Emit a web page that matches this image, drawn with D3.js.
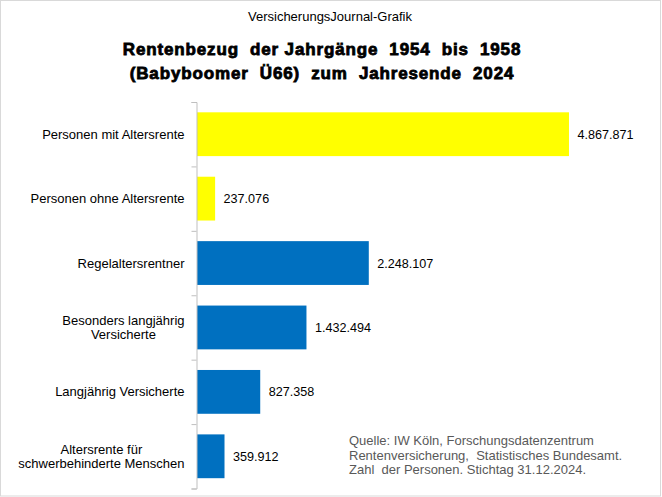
<!DOCTYPE html>
<html>
<head>
<meta charset="utf-8">
<script src="https://cdn.jsdelivr.net/npm/d3@7"></script>
<style>
  body { margin: 0; background: #fff; }
  svg text { font-family: "Liberation Sans", Arial, sans-serif; white-space: pre; }
</style>
</head>
<body>
<div class="visHolder"></div>
<script>
const categories = [
  ["Personen mit Altersrente"],
  ["Personen ohne Altersrente"],
  ["Regelaltersrentner"],
  ["Besonders langjährig", "Versicherte"],
  ["Langjährig Versicherte"],
  ["Altersrente für", "schwerbehinderte Menschen"],
];
const values = [4867871, 237076, 2248107, 1432494, 827358, 359912];
const barColors = ["#ffff00", "#ffff00", "#0070c0", "#0070c0", "#0070c0", "#0070c0"];
const sourceLines = [
  "Quelle: IW Köln, Forschungsdatenzentrum",
  "Rentenversicherung,  Statistisches Bundesamt.",
  "Zahl  der Personen. Stichtag 31.12.2024.",
];

const width = 662;
const height = 497;
const fmt = d3.formatLocale({ decimal: ",", thousands: ".", grouping: [3], currency: ["", "€"] }).format(",d");

const svg = d3
  .select(".visHolder")
  .append("svg")
  .attr("width", width)
  .attr("height", height);

// Rahmen
svg
  .append("rect")
  .attr("x", 0.5)
  .attr("y", 0.5)
  .attr("width", 660)
  .attr("height", 495.5)
  .attr("fill", "#fff")
  .attr("stroke", "#d9d9d9");

const xScale = d3.scaleLinear().domain([0, 6000000]).range([196.5, 655]);
const yScale = d3
  .scaleBand()
  .domain(d3.range(values.length))
  .range([102, 488.5])
  .paddingInner(0.32)
  .paddingOuter(0.16);

// Titel
svg
  .append("text")
  .attr("x", 330)
  .attr("y", 21)
  .attr("text-anchor", "middle")
  .attr("font-size", "13px")
  .attr("fill", "#000")
  .text("VersicherungsJournal-Grafik");

const title = svg
  .append("text")
  .attr("text-anchor", "middle")
  .attr("font-size", "17px")
  .attr("font-weight", "bold")
  .attr("letter-spacing", "0.85px")
  .attr("fill", "#000")
  .attr("stroke", "#000")
  .attr("stroke-width", 0.8);
title.append("tspan").attr("x", 322).attr("y", 55).text("Rentenbezug  der Jahrgänge  1954  bis  1958");
title.append("tspan").attr("x", 322).attr("y", 79).text("(Babyboomer  Ü66)  zum  Jahresende  2024");

// Balken
svg
  .selectAll("rect.bar")
  .data(values)
  .enter()
  .append("rect")
  .attr("class", "bar")
  .attr("x", xScale(0) + 0.5)
  .attr("y", (d, i) => yScale(i))
  .attr("width", (d) => xScale(d) - xScale(0))
  .attr("height", yScale.bandwidth())
  .attr("fill", (d, i) => barColors[i]);

// Werte
svg
  .selectAll("text.value")
  .data(values)
  .enter()
  .append("text")
  .attr("class", "value")
  .attr("x", (d) => xScale(d) + 9)
  .attr("y", (d, i) => yScale(i) + yScale.bandwidth() / 2 + 4.5)
  .attr("font-size", "12.6px")
  .attr("fill", "#000")
  .text((d) => fmt(d));

// Achse
const yAxis = d3
  .axisLeft(d3.scaleLinear().domain([0, values.length]).range([102, 488.5]))
  .ticks(values.length)
  .tickSize(5)
  .tickFormat("");
const axisG = svg
  .append("g")
  .attr("transform", `translate(${xScale(0)}, 0)`)
  .call(yAxis);
axisG.selectAll("path, line").attr("stroke", "#bfbfbf");

// Kategorien
const labelRight = 184.5;
categories.forEach((lines, i) => {
  const cy = yScale(i) + yScale.bandwidth() / 2;
  const g = svg.append("text").attr("font-size", "13px").attr("fill", "#000").attr("text-anchor", "middle");
  const lh = 14.5;
  const tspans = lines.map((t, k) =>
    g
      .append("tspan")
      .attr("y", cy + 4.5 + (k - (lines.length - 1) / 2) * lh)
      .text(t)
  );
  const maxW = d3.max(tspans, (t) => t.node().getComputedTextLength());
  tspans.forEach((t) => t.attr("x", labelRight - maxW / 2));
});

// Quelle
const src = svg.append("text").attr("font-size", "13px").attr("fill", "#595959");
sourceLines.forEach((t, k) => {
  src.append("tspan").attr("x", 349).attr("y", 445 + k * 14.5).text(t);
});
</script>
</body>
</html>
